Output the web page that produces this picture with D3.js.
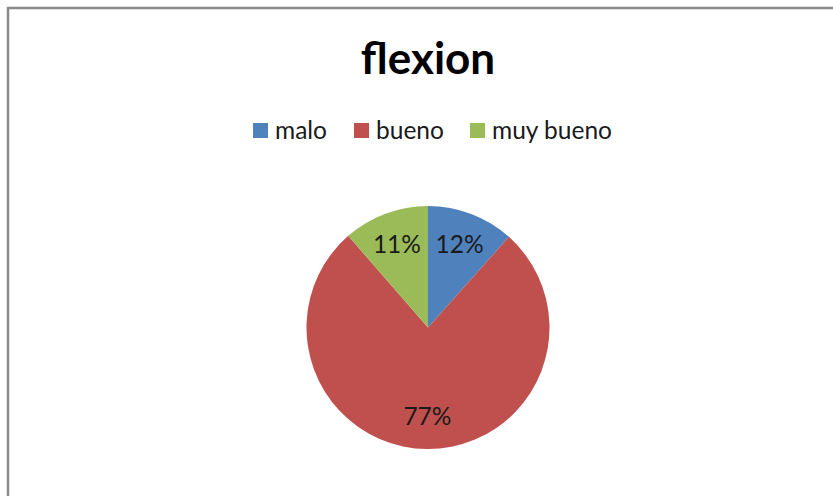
<!DOCTYPE html>
<html><head><meta charset="utf-8">
<script src="https://cdn.jsdelivr.net/npm/d3@7"></script>
<style>body{margin:0;background:#fff}svg{display:block}</style>
</head><body>
<script>
const title = "flexion";
const categories = ["malo", "bueno", "muy bueno"];
const values = [11.6, 77.0, 11.4];
const labels = ["12%", "77%", "11%"];
const colors = ["#4F81BD", "#C0504D", "#9BBB59"];

const W = 833, H = 496;
const font = "Lato, 'Open Sans', sans-serif";
const svg = d3.select("body").append("svg").attr("width", W).attr("height", H);

// chart frame
svg.append("path").attr("d", `M8,${H + 5}V8H${W + 5}`)
  .attr("fill", "none").attr("stroke", "#8a8a8a").attr("stroke-width", 2.5);

svg.append("text").attr("x", 428).attr("y", 74).attr("text-anchor", "middle")
  .attr("font-family", font).attr("font-weight", "bold").attr("font-size", 44)
  .attr("fill", "#000").text(title);

// legend
const legendX = d3.scaleOrdinal().domain(categories).range([253, 354, 470]);
const lg = svg.append("g").selectAll("g").data(categories).join("g")
  .attr("transform", d => `translate(${legendX(d)},123)`);
lg.append("rect").attr("width", 15).attr("height", 15).attr("fill", (d, i) => colors[i]);
lg.append("text").attr("x", 22).attr("y", 16).attr("font-family", font)
  .attr("font-size", 24.5).attr("fill", "#1a1a1a").text(d => d);

// pie
const cx = 428, cy = 327.5, R = 121.5;
const pie = d3.pie().sort(null).value(d => d)(values);
const arc = d3.arc().innerRadius(0).outerRadius(R);
const labelArc = d3.arc().innerRadius(R * 0.73).outerRadius(R * 0.73);
const g = svg.append("g").attr("transform", `translate(${cx},${cy})`);
g.selectAll("path").data(pie).join("path").attr("d", arc).attr("fill", (d, i) => colors[i]);
g.selectAll("text").data(pie).join("text")
  .attr("transform", d => `translate(${labelArc.centroid(d)})`)
  .attr("text-anchor", "middle").attr("dy", "0.36em")
  .attr("font-family", font).attr("font-size", 24.5).attr("fill", "#1a1a1a")
  .text((d, i) => labels[i]);
</script>
</body></html>
